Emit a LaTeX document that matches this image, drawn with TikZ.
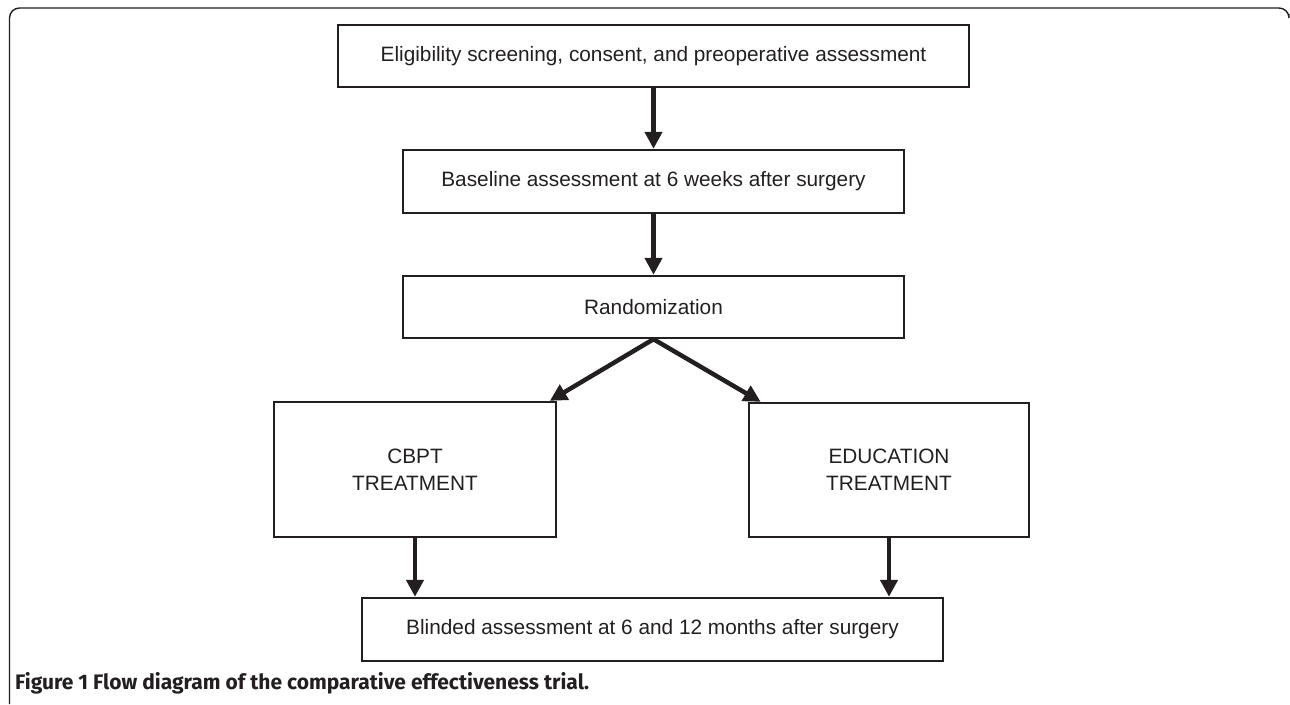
\documentclass[tikz,border=0pt]{standalone}
\usepackage{fontspec}
\setmainfont{Liberation Sans}
\newfontfamily\capfont{Fira Sans}
\usetikzlibrary{arrows.meta}
\definecolor{ink}{HTML}{231F20}

\begin{document}
\begin{tikzpicture}[x=1pt,y=-1pt,
    box/.style={draw=ink,line width=2.4pt,inner sep=0pt,align=center,text=ink,
      font=\fontsize{20.8}{27}\selectfont},
    flow/.style={draw=ink,line width=4.5pt,-{Triangle[width=17pt,length=17pt]}}]
      \useasboundingbox (0,0) rectangle (1290,704);
      \draw[ink,line width=1.4pt,rounded corners=10pt] (9.5,704) -- (9.5,8) -- (1289,8) -- (1289,14);
      \node[box,minimum width=631pt,minimum height=62pt] (elig) at (653.5,56) {Eligibility screening, consent, and preoperative assessment};
      \node[box,minimum width=501pt,minimum height=63pt] (base) at (653.5,181.5) {Baseline assessment at 6 weeks after surgery};
      \node[box,minimum width=501pt,minimum height=62pt] (rand) at (653.5,307) {Randomization};
      \node[box,minimum width=282pt,minimum height=135pt] (cbpt) at (415,469.5) {CBPT\\TREATMENT};
      \node[box,minimum width=280pt,minimum height=134pt] (educ) at (889,470) {EDUCATION\\TREATMENT};
      \node[box,minimum width=581pt,minimum height=63pt] (blind) at (652.5,629.5) {Blinded assessment at 6 and 12 months after surgery};
      \draw[flow] (elig) -- (base);
      \draw[flow] (base) -- (rand);
      \draw[flow] (rand.south) -- (cbpt.27);
      \draw[flow] (rand.south) -- (educ.152);
      \draw[flow] (cbpt.south) -- (cbpt.south |- blind.north);
      \draw[flow] (educ.south) -- (educ.south |- blind.north);
      \node[anchor=base west,inner sep=0pt,text=ink,font=\capfont\bfseries\fontsize{21}{25}\selectfont] (cap) at (15,689) {Figure 1 Flow diagram of the comparative effectiveness trial.};
\end{tikzpicture}
\end{document}
